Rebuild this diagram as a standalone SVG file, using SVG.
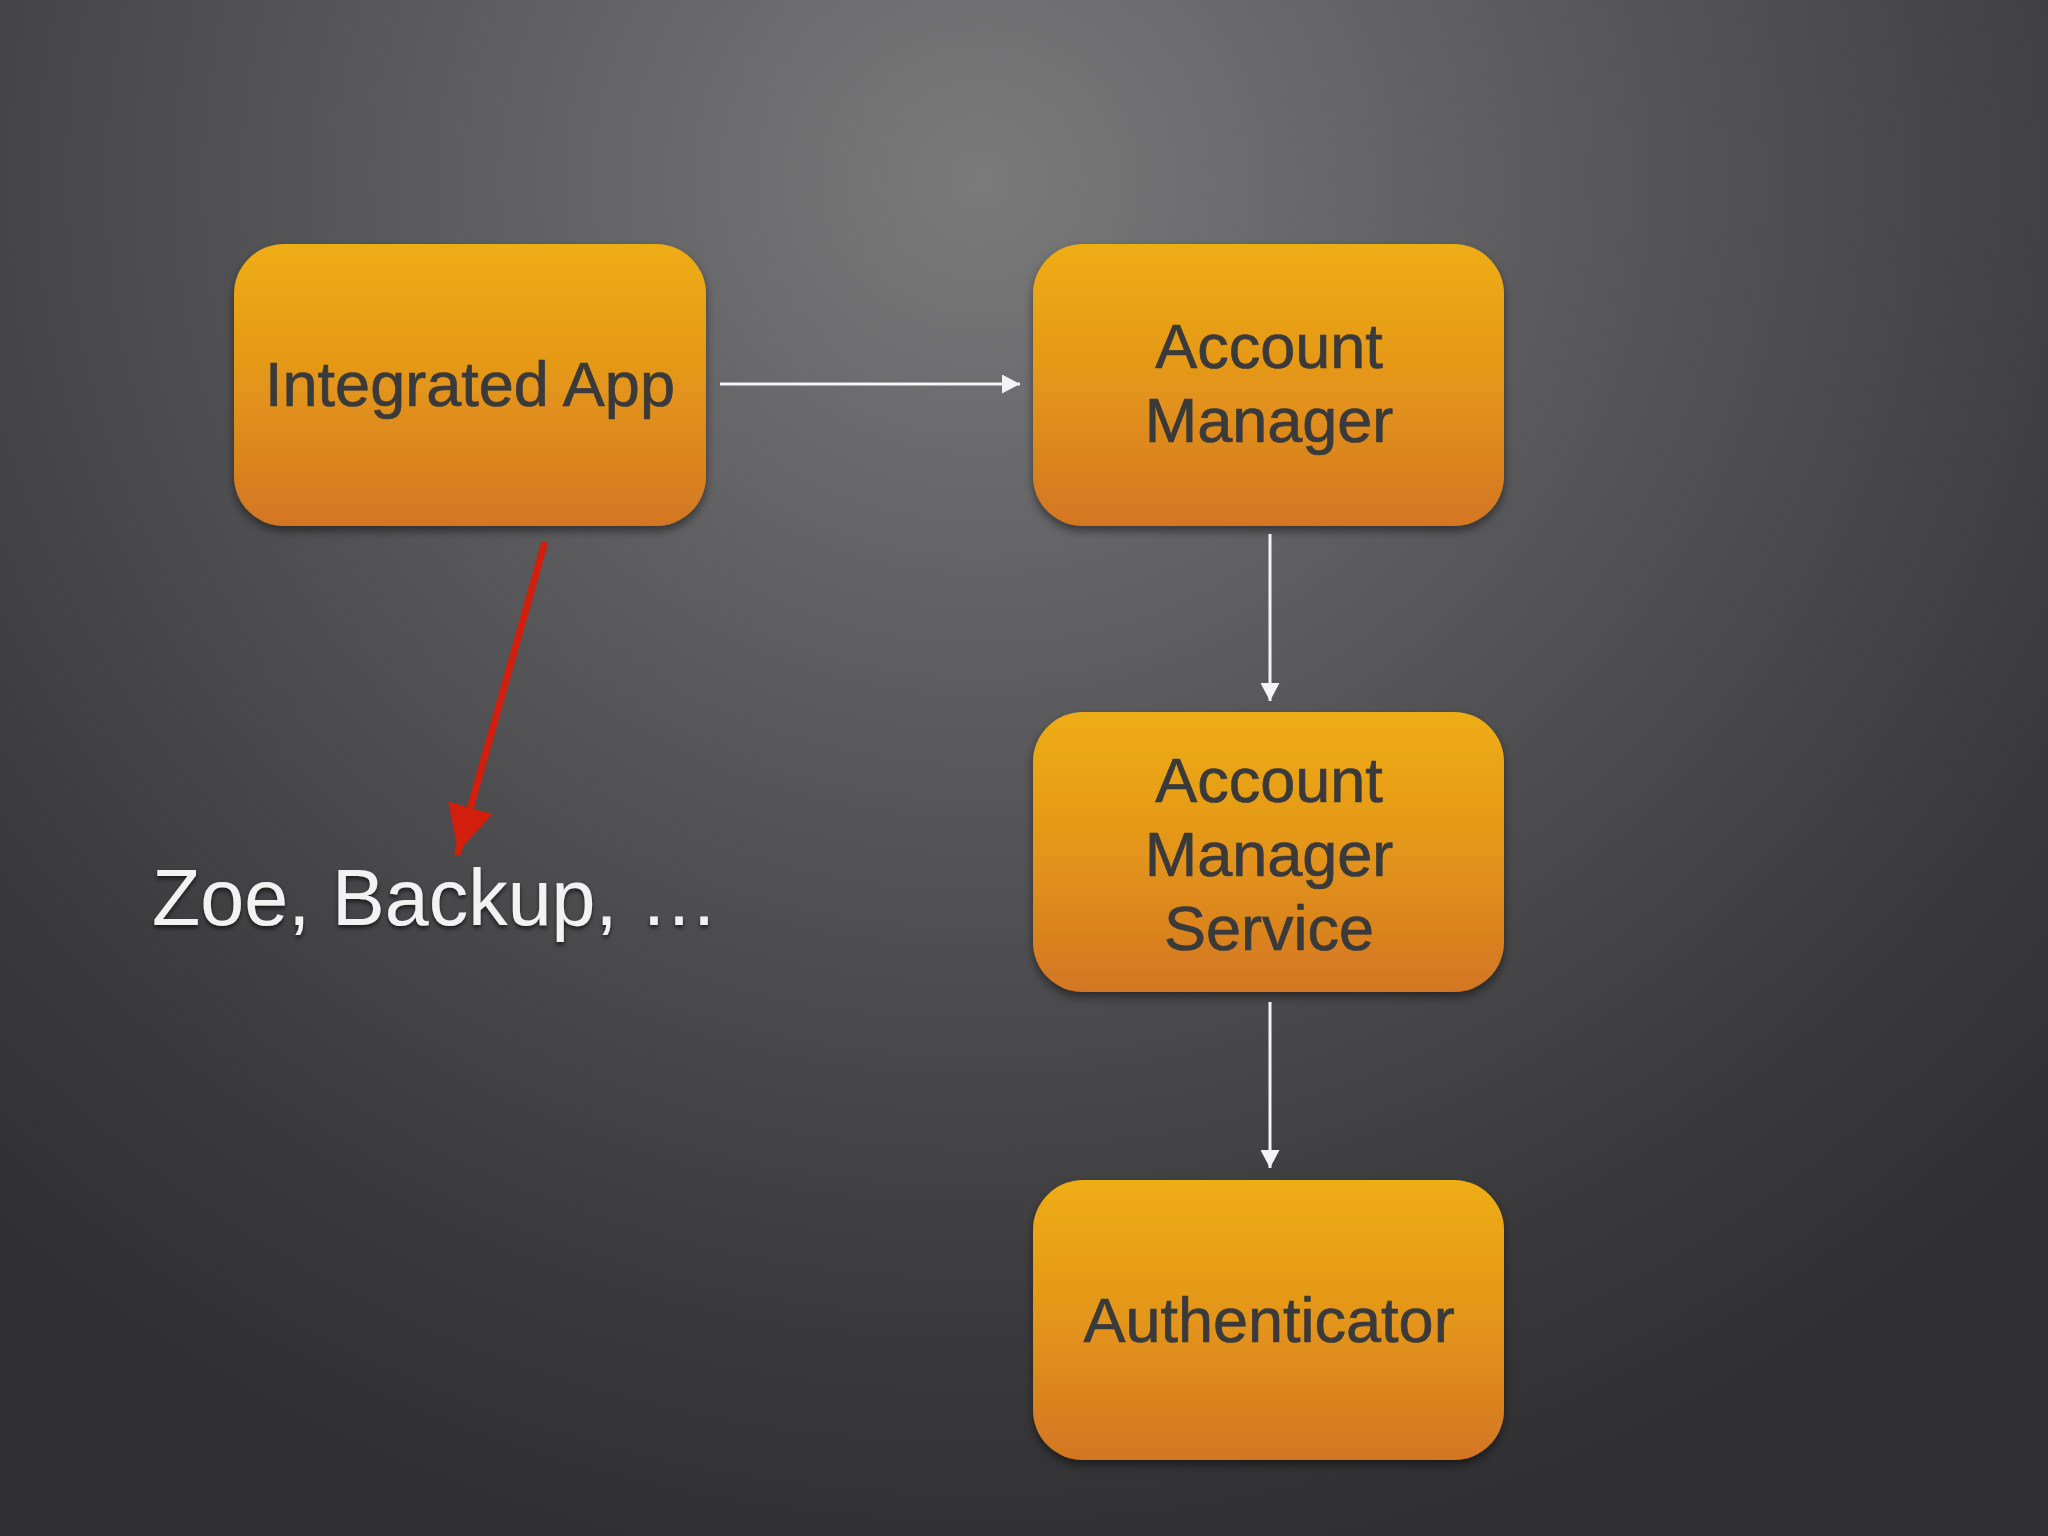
<svg xmlns="http://www.w3.org/2000/svg" width="2048" height="1536" viewBox="0 0 2048 1536">
<defs>
<radialGradient id="bg" cx="980" cy="180" r="1500" gradientUnits="userSpaceOnUse" gradientTransform="translate(980 180) scale(1 0.95) translate(-980 -180)">
<stop offset="0" stop-color="#7b7a7b"/>
<stop offset="0.45" stop-color="#555456"/>
<stop offset="0.8" stop-color="#3a393b"/>
<stop offset="1" stop-color="#2f2e30"/>
</radialGradient>
<linearGradient id="box" x1="0" y1="0" x2="0" y2="1">
<stop offset="0" stop-color="#eead12"/>
<stop offset="0.5" stop-color="#e3951a"/>
<stop offset="1" stop-color="#d37622"/>
</linearGradient>
<filter id="sh" x="-10%" y="-10%" width="120%" height="130%">
<feDropShadow dx="0" dy="5" stdDeviation="5" flood-color="#000" flood-opacity="0.45"/>
</filter>
<filter id="tsh" x="-5%" y="-20%" width="110%" height="140%">
<feDropShadow dx="0" dy="3" stdDeviation="2" flood-color="#000" flood-opacity="0.6"/>
</filter>
<marker id="wa" markerWidth="18" markerHeight="19" refX="18" refY="9.5" orient="auto" markerUnits="userSpaceOnUse">
<path d="M0,0 L18,9.5 L0,19 Z" fill="#f4f4f4"/>
</marker>
<marker id="ra" markerWidth="52" markerHeight="50" refX="46" refY="25" orient="auto" markerUnits="userSpaceOnUse">
<path d="M0,2 L46,25 L0,48 Z" fill="#d21e0c"/>
</marker>
</defs>
<style>
.node rect{fill:url(#box);filter:url(#sh);}
.node text{font-family:"Liberation Sans",Arial,Helvetica,sans-serif;font-size:63px;fill:#3a3a3b;stroke:#3a3a3b;stroke-width:0.7;text-anchor:middle;}
.conn{stroke:#f4f4f4;stroke-width:3;fill:none;}
</style>
<rect width="2048" height="1536" fill="url(#bg)"/>
<g id="integrated-app" class="node">
<rect x="234" y="244" width="472" height="282" rx="50"/>
<text x="470" y="406">Integrated App</text>
</g>
<g id="account-manager" class="node">
<rect x="1033" y="244" width="471" height="282" rx="50"/>
<text x="1269" y="368">Account</text>
<text x="1269" y="442">Manager</text>
</g>
<g id="account-manager-service" class="node">
<rect x="1033" y="712" width="471" height="280" rx="50"/>
<text x="1269" y="802">Account</text>
<text x="1269" y="876">Manager</text>
<text x="1269" y="950">Service</text>
</g>
<g id="authenticator" class="node">
<rect x="1033" y="1180" width="471" height="280" rx="50"/>
<text x="1269" y="1342">Authenticator</text>
</g>
<g id="zoe-backup">
<text x="152" y="925" font-family="&quot;Liberation Sans&quot;,Arial,Helvetica,sans-serif" font-size="79" fill="#f2f2f2" filter="url(#tsh)">Zoe, Backup, …</text>
</g>
<g id="connectors">
<line class="conn" x1="720" y1="384" x2="1020" y2="384" marker-end="url(#wa)"/>
<line class="conn" x1="1270" y1="534" x2="1270" y2="701" marker-end="url(#wa)"/>
<line class="conn" x1="1270" y1="1002" x2="1270" y2="1168" marker-end="url(#wa)"/>
<line x1="544" y1="545" x2="458" y2="852" stroke="#d21e0c" stroke-width="7" stroke-linecap="round" marker-end="url(#ra)"/>
</g>
</svg>
